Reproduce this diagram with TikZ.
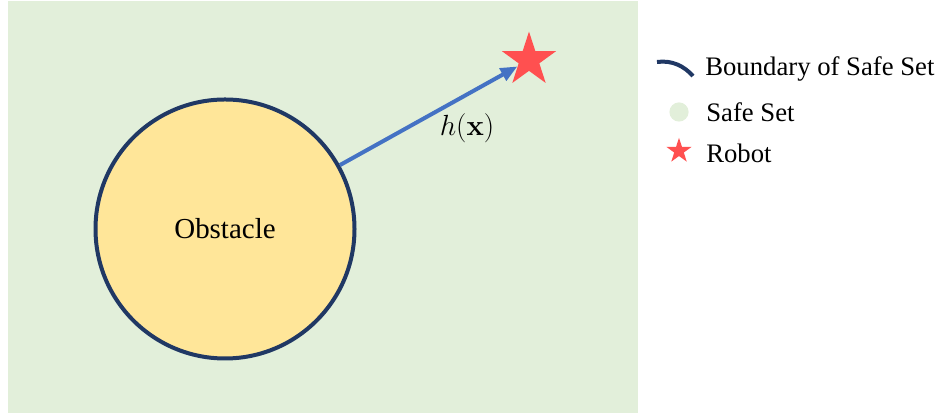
\documentclass[tikz,border=0pt]{standalone}
\usepackage[no-math]{fontspec}
\setmainfont{Liberation Serif}
\usetikzlibrary{arrows.meta,shapes.geometric}
\definecolor{safegreen}{HTML}{E2EFDA}
\definecolor{obstyellow}{HTML}{FFE699}
\definecolor{bndnavy}{HTML}{203864}
\definecolor{hblue}{HTML}{4472C4}
\definecolor{robotred}{HTML}{FF5050}

\begin{document}
\begin{tikzpicture}[x=1cm,y=1cm,
    bnd/.style={draw=bndnavy,line width=0.1cm},
    robotstar/.style={star,star points=5,star point ratio=2.618,
        fill=robotred,draw=none,inner sep=0pt},
    legtxt/.style={font=\fontsize{19}{22}\selectfont,anchor=base west,inner sep=0pt}]
    \useasboundingbox (0,0) rectangle (23.5,10.375);

    % safe set
    \fill[safegreen] (0.2,0.05) rectangle (15.95,10.35);

    % obstacle and robot
    \node[circle,bnd,fill=obstyellow,minimum size=6.475cm,
        font=\fontsize{20.6}{24}\selectfont] (obst) at (5.625,4.65) {Obstacle};
    \node[robotstar,minimum size=1.42cm] (robot) at (13.225,8.875) {};
    \draw[hblue,line width=0.1cm,-{Triangle[length=0.42cm,width=0.34cm]}]
        (obst) -- (robot);
    \node[font=\fontsize{21.5}{25}\selectfont] (hx) at (11.675,7.175) {\(h(\mathbf{x})\)};

    % legend
    \draw[bndnavy,line width=0.1cm] (16.425,8.825)
        .. controls (16.8,8.875) and (17.1,8.725) .. (17.325,8.475);
    \node[legtxt] (lbnd) at (17.625,8.475) {Boundary of Safe Set};
    \node[circle,fill=safegreen,minimum size=0.48cm,inner sep=0pt] (lsafe) at (16.975,7.575) {};
    \node[legtxt] (lsafetxt) at (17.65,7.325) {Safe Set};
    \node[robotstar,minimum size=0.66cm] (lrobot) at (16.975,6.6) {};
    \node[legtxt] (lrobottxt) at (17.65,6.3) {Robot};
\end{tikzpicture}
\end{document}
